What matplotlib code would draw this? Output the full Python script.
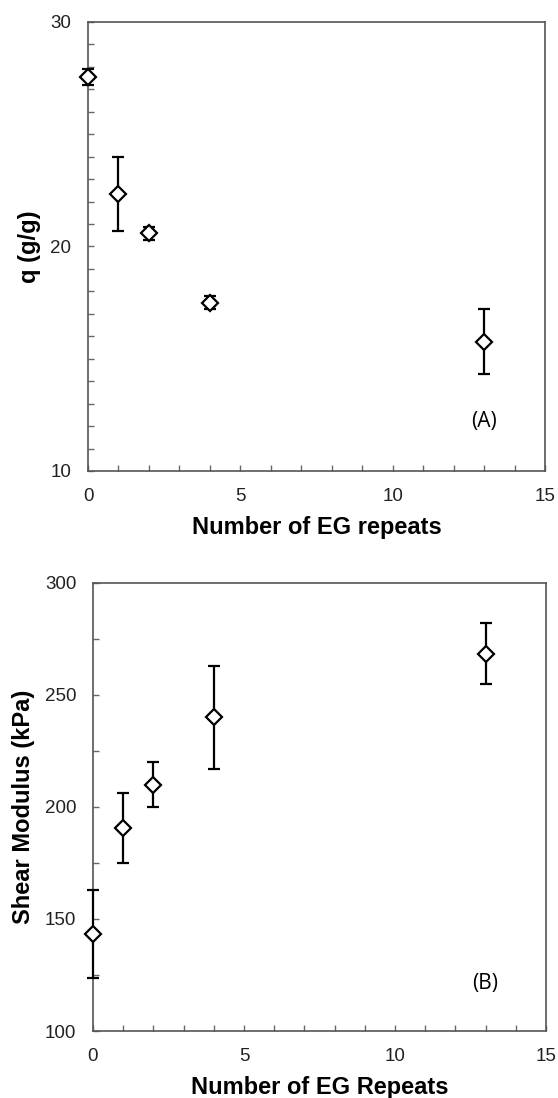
import matplotlib
matplotlib.use('Agg')
import matplotlib.pyplot as plt
from matplotlib.ticker import MultipleLocator

plt.rcParams['font.family'] = ['Liberation Sans', 'DejaVu Sans']

# (A) swelling ratio
eg_repeats = [0, 1, 2, 4, 13]
q_values = [27.55, 22.33, 20.58, 17.5, 15.76]
q_err = [0.37, 1.64, 0.3, 0.3, 1.44]

# (B) shear modulus
shear_modulus = [143.3, 190.6, 210.0, 240.0, 268.5]
shear_err = [19.5, 15.6, 10.0, 23.0, 13.7]

fig = plt.figure(figsize=(5.58, 10.98), dpi=100)

ax1 = fig.add_axes([88 / 558, 1 - 471 / 1098, 457 / 558, 449 / 1098])
ax2 = fig.add_axes([93 / 558, 1 - 1031 / 1098, 453 / 558, 448 / 1098])


def style_axes(ax, ymin, ymax, ymajor, yminor):
    ax.set_xlim(0, 15)
    ax.set_ylim(ymin, ymax)
    ax.xaxis.set_major_locator(MultipleLocator(5))
    ax.xaxis.set_minor_locator(MultipleLocator(1))
    ax.yaxis.set_major_locator(MultipleLocator(ymajor))
    ax.yaxis.set_minor_locator(MultipleLocator(yminor))
    ax.tick_params(which='both', direction='in', length=4, width=1,
                   color='#666666', labelsize=13.5, labelcolor='#222222', pad=12)
    for s in ax.spines.values():
        s.set_color('#555555')
        s.set_linewidth(1.2)


eb_kw = dict(fmt='D', mfc='white', mec='black', ms=8.5, mew=1.6,
             ecolor='black', elinewidth=1.6, capsize=4.3, capthick=1.6, zorder=3)

ax1.errorbar(eg_repeats, q_values, yerr=q_err, clip_on=False, **eb_kw)
style_axes(ax1, 10, 30, 10, 1)
ax1.set_xlabel('Number of EG repeats', fontsize=17, fontweight='bold', labelpad=8)
ax1.set_ylabel('q (g/g)', fontsize=17, fontweight='bold', labelpad=7)
ax1.text(13.0, 12.2, '(A)', fontsize=15, family='Open Sans', ha='center', va='center')

ax2.errorbar(eg_repeats, shear_modulus, yerr=shear_err, clip_on=False, **eb_kw)
style_axes(ax2, 100, 300, 50, 25)
ax2.set_xlabel('Number of EG Repeats', fontsize=17, fontweight='bold', labelpad=8)
ax2.set_ylabel('Shear Modulus (kPa)', fontsize=17, fontweight='bold', labelpad=7)
ax2.text(13.0, 121, '(B)', fontsize=15, family='Open Sans', ha='center', va='center')

fig.savefig('out.png', dpi=100)
